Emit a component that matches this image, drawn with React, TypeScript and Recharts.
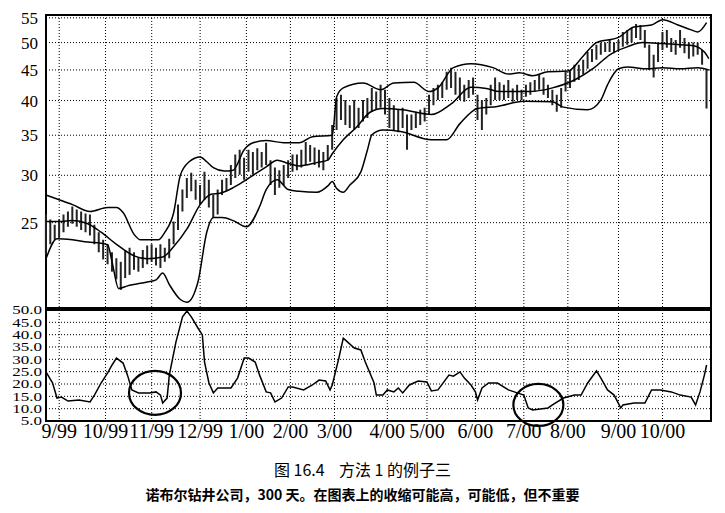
import React from "react";
import {
  ComposedChart, LineChart, Line, Bar,
  XAxis, YAxis, CartesianGrid, ReferenceArea, ReferenceDot,
} from "recharts";

/* ── Axis ticks (x = trading day index, 0 = first bar) ── */
const monthTicks = [6, 27, 48, 70, 91, 111, 131, 155, 173, 195, 217, 237, 260, 280];
const monthLabels = ["9/99", "10/99", "11/99", "12/99", "1/00", "2/00", "3/00", "4/00", "5/00", "6/00", "7/00", "8/00", "9/00", "10/00"];
const priceTicks = [25, 30, 35, 40, 45, 50, 55];
const bwTicks = [5, 10, 15, 20, 25, 30, 35, 40, 45, 50];

/* ── Daily bars, every second day ── */
const barHighs = [
  25.8, 25.3, 24.8, 25.3, 25.8, 26.1, 26.6, 26.3, 26.1, 25.9,
  25.8, 24.8, 24.1, 23.4, 23.0, 22.3, 21.8, 21.5, 22.5, 22.7,
  22.3, 21.9, 22.5, 22.9, 23.0, 22.7, 23.0, 22.7, 23.5, 25.1,
  26.8, 28.4, 29.7, 30.3, 29.5, 28.9, 30.4, 29.5, 27.8, 28.4,
  29.5, 29.7, 31.2, 32.5, 33.1, 32.1, 33.1, 32.8, 33.3, 32.8,
  34.0, 31.8, 30.9, 30.6, 31.2, 31.8, 32.5, 32.5, 33.1, 34.1,
  33.7, 33.4, 33.1, 32.8, 33.7, 36.4, 40.4, 40.9, 40.1, 39.3,
  40.1, 38.9, 40.1, 40.4, 42.0, 41.4, 42.5, 41.7, 40.4, 39.3,
  38.6, 38.9, 37.9, 37.9, 38.3, 38.6, 38.9, 40.9, 42.0, 42.5,
  42.9, 44.7, 45.4, 44.7, 43.7, 42.5, 43.3, 43.7, 40.9, 40.1,
  40.4, 42.5, 43.7, 42.9, 42.5, 43.3, 41.9, 42.5, 41.7, 42.5,
  42.9, 43.3, 44.2, 43.7, 42.5, 41.7, 40.9, 42.0, 44.7, 45.0,
  45.9, 45.9, 46.8, 48.2, 48.8, 49.6, 50.0, 50.0, 50.5, 50.0,
  50.5, 52.1, 52.5, 52.9, 53.7, 53.5, 52.5, 49.6, 47.7, 50.0,
  52.1, 52.5, 50.9, 50.5, 52.5, 50.9, 50.0, 50.0, 50.0, 48.6,
  45.0,
];
const barLows = [
  22.1, 23.0, 23.4, 23.6, 24.1, 24.6, 24.9, 24.6, 24.3, 24.1,
  23.8, 23.0, 22.3, 21.7, 21.3, 20.7, 20.1, 19.3, 20.2, 20.45,
  20.85, 20.7, 21.0, 21.3, 21.5, 21.2, 21.0, 21.5, 21.8, 23.0,
  24.3, 26.1, 27.5, 28.2, 27.3, 26.8, 27.3, 26.5, 25.5, 25.8,
  27.8, 28.2, 28.9, 29.7, 30.05, 29.5, 30.4, 30.05, 30.6, 30.9,
  31.2, 28.9, 27.8, 28.6, 28.9, 29.7, 30.4, 30.6, 30.9, 31.2,
  31.6, 31.2, 30.9, 30.6, 31.8, 33.1, 35.7, 37.1, 36.4, 36.0,
  35.7, 36.0, 36.9, 37.4, 38.3, 38.6, 38.9, 37.9, 36.0, 35.7,
  35.4, 36.0, 33.1, 35.7, 36.0, 36.4, 36.9, 37.9, 39.3, 40.1,
  40.4, 41.7, 42.0, 40.9, 40.1, 39.8, 40.4, 40.9, 37.1, 35.7,
  37.9, 39.3, 40.1, 40.1, 40.1, 40.4, 39.8, 40.1, 40.1, 40.6,
  40.9, 41.4, 41.7, 40.9, 40.4, 39.3, 38.3, 38.9, 41.4, 42.0,
  43.0, 43.3, 44.2, 45.2, 46.4, 46.8, 47.7, 48.2, 48.2, 48.0,
  48.6, 49.2, 49.6, 50.0, 50.9, 50.5, 49.0, 45.0, 43.7, 46.4,
  48.6, 49.0, 48.2, 47.7, 49.0, 48.0, 47.0, 47.4, 47.7, 45.9,
  38.8,
];
const barDays = barHighs.map((_, i) => i * 2);

/* ── Bollinger bands ── */
const upperDays = [0, 6, 12, 20, 28, 32, 35, 40, 43, 51, 54, 58, 61, 65, 70, 73, 76, 81, 85, 90, 94, 100, 108, 115, 121, 130, 132, 135, 144, 152, 158, 167, 174, 178, 185, 193, 203, 210, 215, 221, 228, 237, 244, 250, 260, 267, 275, 280, 287, 293, 296, 300];
const upperVals = [27.8, 27.3, 26.8, 26.1, 26.5, 26.5, 26.0, 23.9, 23.4, 23.4, 24.1, 26.0, 30.0, 31.6, 32.2, 31.6, 30.9, 30.5, 30.6, 33.1, 34.0, 34.3, 34.0, 34.0, 34.8, 35.0, 40.6, 42.0, 42.8, 41.7, 42.8, 42.9, 41.4, 42.0, 45.4, 46.1, 45.4, 44.3, 44.5, 44.0, 44.7, 44.8, 47.5, 50.0, 51.0, 53.1, 53.5, 54.6, 53.5, 52.5, 52.1, 54.0];

const middleDays = [0, 6, 12, 19, 25, 32, 40, 46, 53, 58, 64, 70, 75, 79, 85, 91, 100, 105, 110, 115, 123, 128, 130, 135, 141, 147, 153, 162, 175, 184, 193, 200, 206, 219, 230, 240, 249, 256, 264, 271, 280, 288, 294, 299, 301];
const middleVals = [25.1, 25.1, 25.2, 24.9, 24.1, 23.0, 22.0, 21.75, 21.9, 22.8, 24.4, 26.8, 27.9, 28.0, 28.6, 29.5, 31.0, 31.8, 31.4, 31.1, 31.5, 31.8, 32.6, 34.4, 36.1, 38.2, 38.8, 38.6, 37.9, 39.5, 42.1, 41.9, 41.4, 41.4, 42.0, 43.3, 45.4, 47.7, 49.2, 50.0, 49.8, 49.6, 49.4, 48.2, 47.0];

const lowerDays = [0, 5, 12, 19, 25, 28, 30, 33, 37, 46, 50, 53, 56, 61, 64, 69, 73, 76, 80, 85, 91, 97, 100, 105, 110, 115, 123, 128, 130, 132, 135, 138, 143, 146, 148, 153, 161, 175, 182, 188, 196, 205, 217, 230, 235, 246, 252, 255, 260, 264, 273, 280, 288, 296, 301];
const lowerVals = [21.75, 23.5, 23.4, 23.2, 23.1, 22.96, 21.5, 19.4, 19.6, 19.9, 20.06, 20.6, 19.7, 18.6, 18.4, 19.9, 24.1, 25.5, 25.5, 25.2, 24.6, 26.6, 28.4, 29.5, 28.4, 28.2, 28.1, 28.8, 29.3, 28.5, 28.1, 28.9, 30.4, 33.1, 35.05, 35.7, 35.5, 34.4, 34.4, 36.6, 38.8, 39.1, 39.9, 39.8, 39.0, 38.6, 40.1, 42.5, 45.2, 45.5, 45.2, 45.4, 45.2, 45.4, 45.0];

/* ── Bandwidth (lower panel) ── */
const bwDays = [0, 3, 5, 7, 10, 15, 20, 22, 25, 28, 30, 32, 35, 37, 39, 42, 47, 50, 52, 53, 55, 56, 59, 62, 64, 66, 69, 71, 72, 74, 76, 78, 84, 87, 90, 92, 95, 97, 100, 102, 104, 107, 110, 112, 117, 121, 124, 127, 129, 130, 133, 135, 137, 140, 143, 145, 149, 150, 153, 155, 158, 160, 162, 165, 169, 173, 175, 178, 183, 185, 188, 190, 193, 195, 196, 198, 201, 205, 210, 214, 217, 219, 221, 228, 230, 235, 240, 243, 246, 250, 252, 255, 258, 261, 262, 267, 272, 275, 279, 284, 288, 293, 295, 297, 299, 300];
const bwValues = [24.9, 20.4, 14.3, 14.7, 13.1, 13.5, 12.7, 15.5, 20.4, 24.5, 27.7, 30.5, 28.5, 23.6, 17.6, 16.4, 16.4, 16.8, 15.5, 12.3, 14.3, 23.6, 37.0, 47.2, 49.6, 47.2, 42.7, 39.9, 28.9, 20.4, 16.4, 18.4, 18.4, 22.4, 30.5, 30.5, 28.9, 23.6, 16.8, 16.4, 12.7, 14.3, 18.8, 18.8, 17.6, 19.6, 21.6, 21.2, 17.6, 19.6, 30.5, 38.6, 37.0, 34.6, 33.8, 28.9, 20.4, 15.5, 15.5, 17.6, 16.8, 18.4, 16.4, 19.6, 21.2, 20.8, 17.2, 17.6, 23.6, 23.2, 24.9, 22.4, 19.6, 16.8, 13.5, 18.4, 20.4, 20.4, 17.6, 16.4, 15.5, 10.3, 9.5, 10.3, 11.5, 14.3, 15.5, 15.5, 20.4, 25.3, 22.4, 17.6, 15.5, 10.3, 11.5, 12.3, 12.3, 17.6, 17.6, 16.8, 15.5, 14.7, 11.5, 16.8, 23.6, 27.7];

/* ── Build chart rows ── */
type PriceRow = { day: number; range?: [number, number]; upper?: number; middle?: number; lower?: number };
const rowMap = new Map<number, PriceRow>();
const rowAt = (d: number) => {
  if (!rowMap.has(d)) rowMap.set(d, { day: d });
  return rowMap.get(d)!;
};
barDays.forEach((d, i) => { rowAt(d).range = [barLows[i], barHighs[i]]; });
upperDays.forEach((d, i) => { rowAt(d).upper = upperVals[i]; });
middleDays.forEach((d, i) => { rowAt(d).middle = middleVals[i]; });
lowerDays.forEach((d, i) => { rowAt(d).lower = lowerVals[i]; });
const priceRows = Array.from(rowMap.values()).sort((a, b) => a.day - b.day);

const bwRows = bwDays.map((d, i) => ({ day: d, bw: bwValues[i] }));

const SERIF = "'Liberation Serif', 'DejaVu Serif', serif";

/* squashed labels, like the cramped scale in the original */
function BwTick({ x, y, payload }: any) {
  return (
    <g transform={`translate(${x},${y}) scale(1,0.7)`}>
      <text x={0} y={0} dy="0.36em" textAnchor="end" fontSize={17} fontFamily={SERIF} fill="#000">
        {Number(payload.value).toFixed(1)}
      </text>
    </g>
  );
}

const Ellipse = (rx: number, ry: number) => (p: any) => (
  <ellipse cx={p.cx} cy={p.cy} rx={rx} ry={ry} fill="none" stroke="#000" strokeWidth={2.2} />
);

export default function App() {
  return (
    <div style={{ position: "absolute", left: 0, top: 0, width: 725, height: 513, background: "#fff" }}>
      <div style={{ position: "absolute", left: 0, top: 0 }}>
        <ComposedChart width={725} height={309} data={priceRows} margin={{ top: 15, right: 14, bottom: 1, left: 0 }}>
          <CartesianGrid stroke="#000" strokeDasharray="1 2" />
          <XAxis dataKey="day" type="number" domain={[0, 302]} ticks={monthTicks} hide />
          <YAxis
            scale="log"
            domain={[18, 55.6]}
            ticks={priceTicks}
            allowDataOverflow
            interval={0}
            width={46}
            tickLine={false}
            axisLine={false}
            tick={{ fontSize: 17, fill: "#000", fontFamily: SERIF }}
          />
          <Bar dataKey="range" barSize={2} fill="#222" isAnimationActive={false} />
          <Line dataKey="upper" type="monotone" stroke="#000" strokeWidth={1.5} dot={false} connectNulls isAnimationActive={false} />
          <Line dataKey="middle" type="monotone" stroke="#000" strokeWidth={1.5} dot={false} connectNulls isAnimationActive={false} />
          <Line dataKey="lower" type="monotone" stroke="#000" strokeWidth={1.5} dot={false} connectNulls isAnimationActive={false} />
          <ReferenceArea x1={0} x2={302} y1={18} y2={55.6} fill="none" stroke="#000" strokeWidth={2} />
        </ComposedChart>
      </div>

      <div style={{ position: "absolute", left: 0, top: 300 }}>
        <LineChart width={725} height={150} data={bwRows} margin={{ top: 10, right: 14, bottom: 0, left: 0 }}>
          <CartesianGrid stroke="#000" strokeDasharray="1 2" />
          <XAxis
            dataKey="day"
            type="number"
            domain={[0, 302]}
            ticks={monthTicks}
            interval={0}
            height={29}
            tickLine={false}
            axisLine={false}
            tickSize={0}
            tickMargin={3}
            tickFormatter={(v: number) => monthLabels[monthTicks.indexOf(v)] ?? ""}
            tick={{ fontSize: 20, fill: "#000", fontFamily: SERIF }}
          />
          <YAxis
            domain={[5, 50]}
            ticks={bwTicks}
            interval={0}
            width={46}
            tickLine={false}
            axisLine={false}
            tickSize={2}
            tick={<BwTick />}
          />
          <Line dataKey="bw" type="linear" stroke="#000" strokeWidth={1.5} dot={false} isAnimationActive={false} />
          <ReferenceArea x1={0} x2={302} y1={5} y2={50} fill="none" stroke="#000" strokeWidth={2} />
          <ReferenceDot x={49.5} y={16.4} ifOverflow="visible" shape={Ellipse(26, 22)} />
          <ReferenceDot x={223.6} y={11.5} ifOverflow="visible" shape={Ellipse(25, 21)} />
        </LineChart>
      </div>

      <div style={{ position: "absolute", left: 0, top: 457, width: 725, textAlign: "center", fontFamily: "'Noto Sans CJK SC', sans-serif", fontSize: 16, color: "#000", whiteSpace: "pre" }}>
        {"图 16.4    方法 1 的例子三"}
      </div>
      <div style={{ position: "absolute", left: 0, top: 484, width: 725, textAlign: "center", fontFamily: "'Noto Sans CJK SC', sans-serif", fontSize: 14, fontWeight: 700, color: "#000", whiteSpace: "pre" }}>
        {"诺布尔钻井公司，300 天。在图表上的收缩可能高，可能低，但不重要"}
      </div>
    </div>
  );
}
